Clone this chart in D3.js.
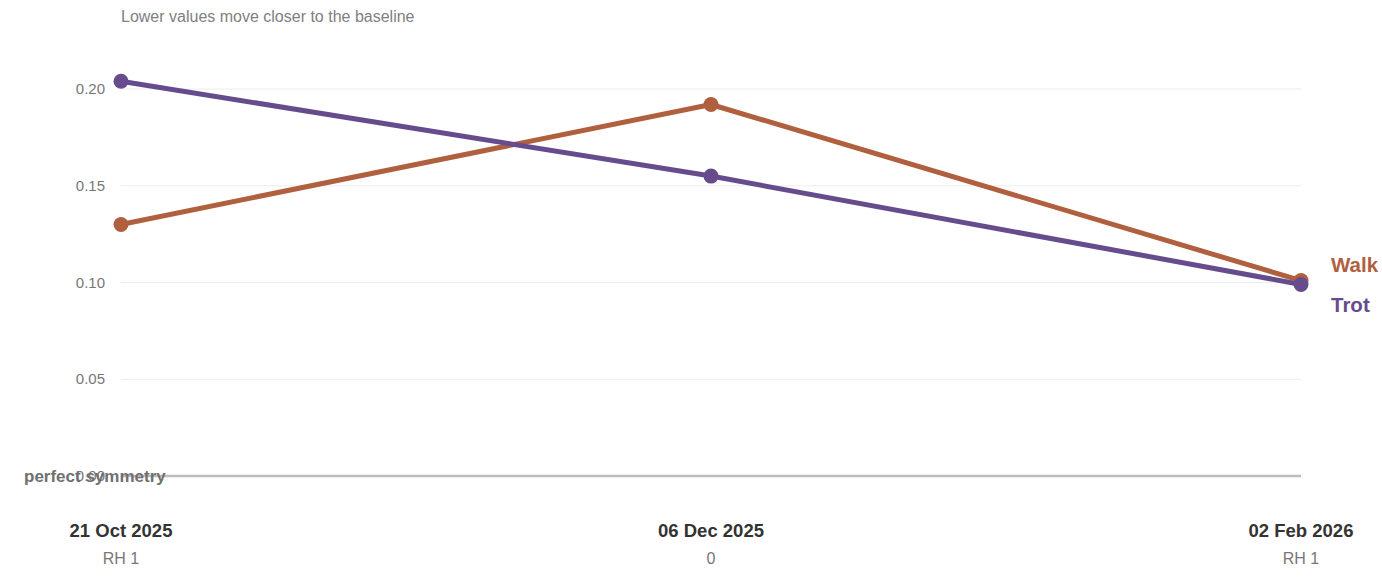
<!DOCTYPE html>
<html>
<head>
<meta charset="utf-8">
<style>
  body { margin: 0; background: #fff; }
  svg { font-family: "Liberation Sans", Arial, sans-serif; }
</style>
</head>
<body>
<div id="chart"></div>
<script src="https://d3js.org/d3.v7.min.js"></script>
<script>
var dates = ["21 Oct 2025", "06 Dec 2025", "02 Feb 2026"];
var subLabels = ["RH 1", "0", "RH 1"];
var walk = [0.130, 0.192, 0.101];
var trot = [0.204, 0.155, 0.099];
var yTicks = [0, 0.05, 0.10, 0.15, 0.20];
var seriesNames = ["Walk", "Trot"];
var seriesColors = ["#b0603e", "#664b8d"];

var W = 1382, H = 584;
var svg = d3.select("#chart").append("svg")
    .attr("width", W)
    .attr("height", H);

var x = d3.scalePoint().domain(dates).range([121, 1301]);
var y = d3.scaleLinear().domain([0, 0.2]).range([476, 89]);

// subtitle
svg.append("text")
    .attr("x", 121).attr("y", 22)
    .attr("font-size", 16).attr("fill", "#808080")
    .text("Lower values move closer to the baseline");

// gridlines
svg.append("g")
  .selectAll("line")
  .data(yTicks.filter(function(d) { return d > 0; }))
  .join("line")
    .attr("x1", 121).attr("x2", 1301)
    .attr("y1", function(d) { return y(d); })
    .attr("y2", function(d) { return y(d); })
    .attr("stroke", "#ececec").attr("stroke-width", 1);

// y tick labels
svg.append("g")
  .selectAll("text")
  .data(yTicks)
  .join("text")
    .attr("x", 105)
    .attr("y", function(d) { return y(d) + 5; })
    .attr("text-anchor", "end")
    .attr("font-size", 15).attr("fill", "#777")
    .text(function(d) { return d3.format(".2f")(d); });

// baseline
svg.append("line")
    .attr("x1", 121).attr("x2", 1301)
    .attr("y1", y(0)).attr("y2", y(0))
    .attr("stroke", "#bdbdbd").attr("stroke-width", 2.5);

svg.append("text")
    .attr("x", 24).attr("y", y(0) + 6)
    .attr("font-size", 17).attr("font-weight", "bold").attr("fill", "#707070")
    .text("perfect symmetry");

// x labels
svg.append("g")
  .selectAll("text")
  .data(dates)
  .join("text")
    .attr("x", function(d) { return x(d); })
    .attr("y", 537)
    .attr("text-anchor", "middle")
    .attr("font-size", 18.5).attr("font-weight", "bold").attr("fill", "#333")
    .text(function(d) { return d; });

svg.append("g")
  .selectAll("text")
  .data(subLabels)
  .join("text")
    .attr("x", function(d, i) { return x(dates[i]); })
    .attr("y", 564)
    .attr("text-anchor", "middle")
    .attr("font-size", 16).attr("fill", "#777")
    .text(function(d) { return d; });

// series
var series = [walk, trot];
var line = d3.line()
    .x(function(d, i) { return x(dates[i]); })
    .y(function(d) { return y(d); });

series.forEach(function(vals, s) {
  var g = svg.append("g");
  g.append("path")
      .datum(vals)
      .attr("d", line)
      .attr("fill", "none")
      .attr("stroke", seriesColors[s])
      .attr("stroke-width", 5)
      .attr("stroke-linejoin", "round");
  g.selectAll("circle")
    .data(vals)
    .join("circle")
      .attr("cx", function(d, i) { return x(dates[i]); })
      .attr("cy", function(d) { return y(d); })
      .attr("r", 7.5)
      .attr("fill", seriesColors[s]);
});

// end labels
var labelY = [272, 312];
seriesNames.forEach(function(name, s) {
  svg.append("text")
      .attr("x", 1331).attr("y", labelY[s])
      .attr("font-size", 20.5).attr("font-weight", "bold")
      .attr("fill", seriesColors[s])
      .text(name);
});
</script>
</body>
</html>
